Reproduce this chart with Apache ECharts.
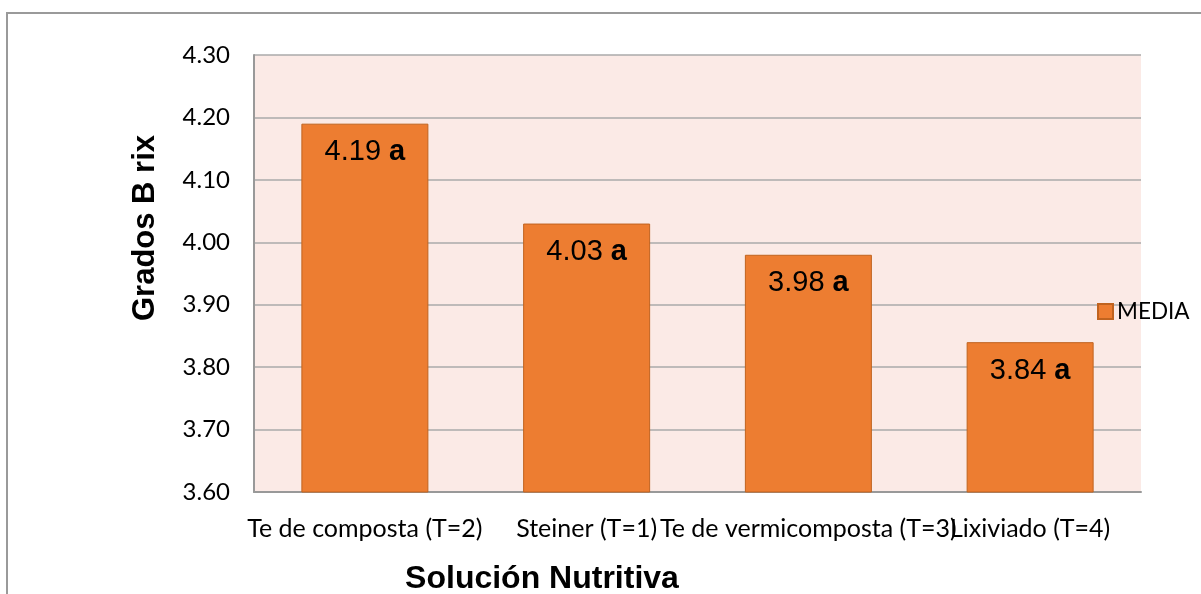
<!DOCTYPE html>
<html>
<head>
<meta charset="utf-8">
<script src="https://cdn.jsdelivr.net/npm/echarts@6/dist/echarts.min.js"></script>
<style>
  html, body { margin: 0; padding: 0; background: #fff; }
  #main { width: 1201px; height: 594px; }
</style>
</head>
<body>
<div id="main"></div>
<script>
// datos del grafico
var categorias = ['Te de composta (T=2)', 'Steiner (T=1)', 'Te de vermicomposta (T=3)', 'Lixiviado (T=4)'];
var media = [4.19, 4.03, 3.98, 3.84];
var letras = ['a', 'a', 'a', 'a'];
var yTicks = [3.60, 3.70, 3.80, 3.90, 4.00, 4.10, 4.20, 4.30];

var myChart = echarts.init(document.getElementById('main'));

var option = {
    animation: false,
    grid: { left: 254, right: 60, top: 55, bottom: 102, show: true, backgroundColor: '#FBEAE6', borderWidth: 0 },
    legend: {
        data: ['MEDIA'],
        icon: 'rect',
        left: 1092, top: 295,
        itemWidth: 15, itemHeight: 15, itemGap: 0,
        textStyle: { fontFamily: 'Lato', fontSize: 22.5, color: '#000', padding: [0, 0, 0, -1] }
    },
    graphic: [
        { type: 'rect', shape: { x: 7, y: 13, width: 1300, height: 700 }, style: { fill: 'none', stroke: '#9a9a9a', lineWidth: 2 }, silent: true },
        { type: 'text', x: 145, y: 228, rotation: Math.PI / 2,
          style: { text: 'Grados B rix', font: 'bold 31px "Liberation Sans", Arial', fill: '#000', align: 'center', verticalAlign: 'middle' } },
        { type: 'text', x: 542, y: 579,
          style: { text: 'Solución Nutritiva', font: 'bold 32px "Liberation Sans", Arial', fill: '#000', align: 'center', verticalAlign: 'middle' } }
    ],
    xAxis: {
        type: 'category',
        data: categorias,
        axisLine: { lineStyle: { color: '#999', width: 2 } },
        axisTick: { show: false },
        axisLabel: { fontFamily: 'Lato', fontSize: 25, color: '#000', margin: 24, interval: 0 }
    },
    yAxis: {
        type: 'value',
        min: yTicks[0], max: yTicks[yTicks.length - 1], interval: 0.1,
        axisLine: { show: true, lineStyle: { color: '#999', width: 2 } },
        axisTick: { show: false },
        splitLine: { lineStyle: { color: '#aaa', width: 1.5 } },
        axisLabel: { fontFamily: 'Lato', fontSize: 24, color: '#000', margin: 24,
            formatter: function (v) { return v.toFixed(2); } }
    },
    series: [{
        name: 'MEDIA',
        type: 'bar',
        data: media,
        barWidth: 127,
        itemStyle: { color: '#ED7D31', borderColor: '#C0631F', borderWidth: 1 },
        label: {
            show: true,
            position: 'insideTop',
            distance: 14,
            formatter: function (p) { return p.value.toFixed(2) + ' {b|' + letras[p.dataIndex] + '}'; },
            fontFamily: 'Liberation Sans, Arial',
            fontSize: 29,
            color: '#000',
            rich: { b: { fontFamily: 'Liberation Sans, Arial', fontSize: 29, fontWeight: 'bold', color: '#000' } }
        }
    }]
};

myChart.setOption(option);
</script>
</body>
</html>
